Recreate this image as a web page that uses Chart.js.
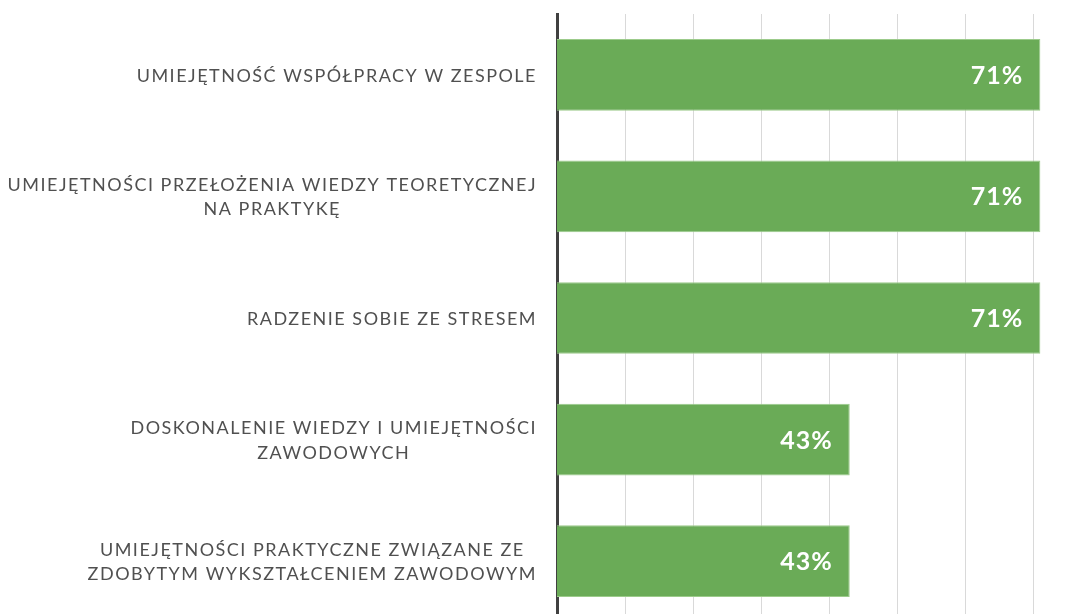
<!DOCTYPE html>
<html>
<head>
<meta charset="utf-8">
<script src="https://cdn.jsdelivr.net/npm/chart.js@4.4.1/dist/chart.umd.min.js"></script>
<style>
    html, body { margin: 0; padding: 0; background: #fff; overflow: hidden; }
    #wrap { width: 1088px; height: 640px; }
</style>
</head>
<body>
<div id="wrap"><canvas id="skillsChart" width="1088" height="640"></canvas></div>
<script>
// Categories (multi-line labels as arrays)
const categories = [
    ['UMIEJĘTNOŚĆ WSPÓŁPRACY W ZESPOLE'],
    ['UMIEJĘTNOŚCI PRZEŁOŻENIA WIEDZY TEORETYCZNEJ', 'NA PRAKTYKĘ'],
    ['RADZENIE SOBIE ZE STRESEM'],
    ['DOSKONALENIE WIEDZY I UMIEJĘTNOŚCI', 'ZAWODOWYCH'],
    ['UMIEJĘTNOŚCI PRAKTYCZNE ZWIĄZANE ZE', 'ZDOBYTYM WYKSZTAŁCENIEM ZAWODOWYM']
];
const values = [71, 71, 71, 43, 43];
const gridTicks = [10, 20, 30, 40, 50, 60, 70];

// Category labels: block right-aligned next to the axis, lines centred within the block
const categoryLabels = {
    id: 'categoryLabels',
    afterDraw(chart) {
        const ctx = chart.ctx;
        const yScale = chart.scales.y;
        const rightEdge = yScale.right - 20;
        const lineH = 24.5;
        ctx.save();
        ctx.letterSpacing = '1.5px';
        ctx.fillStyle = '#505050';
        ctx.font = '18px Lato, sans-serif';
        ctx.textAlign = 'center';
        ctx.textBaseline = 'middle';
        categories.forEach((lines, i) => {
            const yMid = yScale.getPixelForTick(i);
            const blockW = Math.max(...lines.map(l => ctx.measureText(l).width));
            const cx = rightEdge - blockW / 2;
            lines.forEach((line, j) => {
                const y = yMid + (j - (lines.length - 1) / 2) * lineH + 1;
                ctx.fillText(line, cx, y);
            });
        });
        ctx.restore();
    }
};

// Draw the white percentage labels inside the bar ends
const barLabels = {
    id: 'barLabels',
    afterDraw(chart) {
        const ctx = chart.ctx;
        const meta = chart.getDatasetMeta(0);
        ctx.save();
        ctx.letterSpacing = '1px';
        ctx.fillStyle = '#ffffff';
        ctx.font = 'bold 25px Lato, sans-serif';
        ctx.textAlign = 'right';
        ctx.textBaseline = 'middle';
        meta.data.forEach((bar, i) => {
            ctx.fillText(values[i] + '%', bar.x - 17, bar.y + 1);
        });
        ctx.restore();
    }
};

const ctx = document.getElementById('skillsChart');
new Chart(ctx, {
    type: 'bar',
    data: {
        labels: categories,
        datasets: [{
            data: values,
            backgroundColor: '#6aab57',
            borderColor: '#9ccb8b',
            borderWidth: 1,
            borderSkipped: 'start',
            categoryPercentage: 1,
            barPercentage: 0.59
        }]
    },
    options: {
        indexAxis: 'y',
        responsive: false,
        animation: false,
        layout: { padding: { top: 14, bottom: 18, right: 0, left: 0 } },
        plugins: {
            legend: { display: false },
            tooltip: { enabled: false }
        },
        scales: {
            x: {
                min: 0,
                max: 78,
                z: 1,
                ticks: { display: false, stepSize: 10 },
                afterBuildTicks: (scale) => {
                    scale.ticks = gridTicks.map(v => ({ value: v }));
                },
                afterFit: (scale) => {
                    scale.height = 0;
                    scale.paddingLeft = scale.paddingRight = 0;
                },
                grid: { color: 'rgba(0,0,0,0.15)', lineWidth: 1, drawTicks: false },
                border: { display: false }
            },
            y: {
                afterFit: (scale) => {
                    scale.width = 557;
                    scale.paddingTop = 0;
                    scale.paddingBottom = 0;
                },
                grid: { display: false },
                border: { display: true, color: '#404040', width: 3 },
                ticks: { display: false }
            }
        }
    },
    plugins: [categoryLabels, barLabels]
});
</script>
</body>
</html>
